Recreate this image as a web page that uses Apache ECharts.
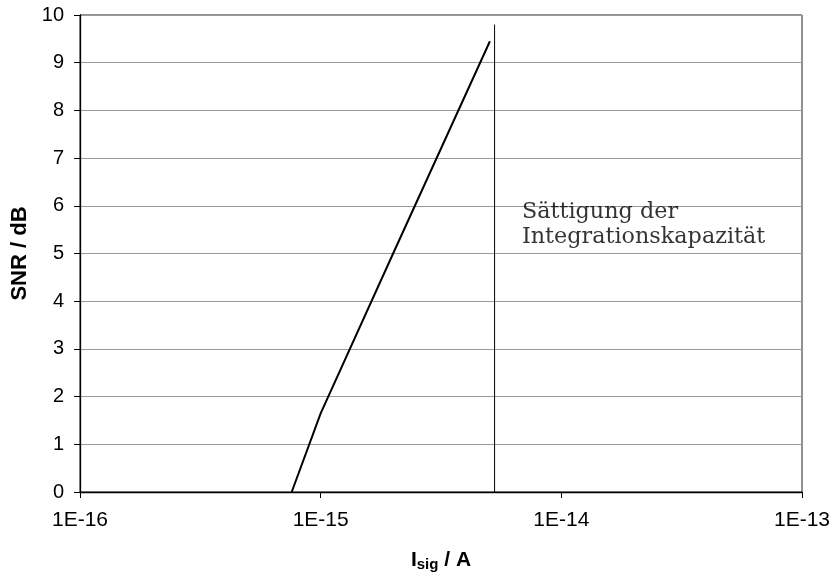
<!DOCTYPE html>
<html>
<head>
<meta charset="utf-8">
<script src="https://cdn.jsdelivr.net/npm/echarts@6/dist/echarts.min.js"></script>
<style>html,body{margin:0;padding:0;background:#fff;}#c{width:830px;height:574px;}</style>
</head>
<body>
<div id="c"></div>
<script>
// Data
const snrCurveX = [7.58e-16, 1.0e-15, 2.0e-15, 5.05e-15];
const snrCurveY = [0, 1.65, 5.0, 9.45];
const saturationX = [5.28e-15, 5.28e-15];
const saturationY = [0, 9.8];
const xTickValues = [1e-16, 1e-15, 1e-14, 1e-13];
const xTickLabels = ['1E-16', '1E-15', '1E-14', '1E-13'];
const annotationText = 'Sättigung der\nIntegrationskapazität';
const annotationAnchor = [6.86e-15, 6.12];

const chart = echarts.init(document.getElementById('c'), null, {renderer: 'canvas'});
const curve = snrCurveX.map((x, i) => [x, snrCurveY[i]]);
const sat = saturationX.map((x, i) => [x, saturationY[i]]);

function fmtX(v) {
  const e = Math.log10(v);
  for (let i = 0; i < xTickValues.length; i++) {
    if (Math.abs(Math.log10(xTickValues[i]) - e) < 1e-6) return xTickLabels[i];
  }
  return '';
}

chart.setOption({
  animation: false,
  backgroundColor: '#fff',
  grid: {left: 80, right: 28, top: 15, bottom: 82, show: true, borderColor: '#222', borderWidth: 1,
         containLabel: false, outerBoundsMode: 'none'},
  xAxis: {
    type: 'log', logBase: 10, min: 1e-16, max: 1e-13,
    name: '{i|I}{s|sig}{i| / A}', nameLocation: 'middle', nameGap: 56,
    nameTextStyle: {rich: {
      i: {fontFamily: 'Liberation Sans, Arial', fontWeight: 'bold', fontSize: 21, color: '#000'},
      s: {fontFamily: 'Liberation Sans, Arial', fontWeight: 'bold', fontSize: 15, color: '#000', verticalAlign: 'bottom', padding: [9, 0, 0, 0]}
    }},
    axisLine: {show: true, lineStyle: {color: '#000', width: 1.3}},
    axisTick: {show: true, length: 6, lineStyle: {color: '#000'}},
    minorTick: {show: false},
    splitLine: {show: false},
    axisLabel: {formatter: fmtX, fontFamily: 'Liberation Sans, Arial', fontSize: 21, color: '#000', margin: 18}
  },
  yAxis: {
    type: 'value', min: 0, max: 10, interval: 1,
    name: 'SNR / dB', nameLocation: 'middle', nameGap: 48,
    nameTextStyle: {fontFamily: 'Liberation Sans, Arial', fontWeight: 'bold', fontSize: 22, color: '#000'},
    axisLine: {show: true, lineStyle: {color: '#000', width: 1.3}},
    axisTick: {show: true, length: 6, lineStyle: {color: '#000'}},
    splitLine: {show: true, lineStyle: {color: '#999', width: 1}},
    axisLabel: {fontFamily: 'Liberation Sans, Arial', fontSize: 20, color: '#000', margin: 16}
  },
  series: [
    {type: 'line', data: curve, symbol: 'none', lineStyle: {color: '#000', width: 2}, z: 5},
    {type: 'line', data: sat, symbol: 'none', lineStyle: {color: '#000', width: 1}, z: 4},
    {type: 'scatter', data: [annotationAnchor], symbolSize: 0, silent: true,
     label: {show: true, position: [0, 0], align: 'left', verticalAlign: 'top',
       formatter: annotationText, fontFamily: 'DejaVu Serif', fontSize: 22.3, lineHeight: 25, color: '#000'}}
  ]
});
</script>
</body>
</html>
